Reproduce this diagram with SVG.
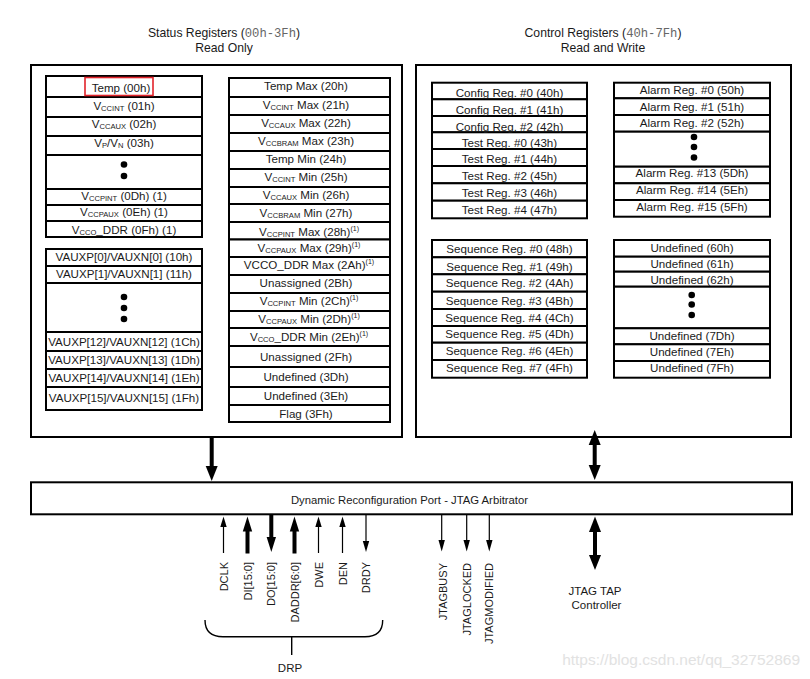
<svg xmlns="http://www.w3.org/2000/svg" width="810" height="679" viewBox="0 0 810 679">
<style>
text{font-family:"Liberation Sans",Arial,sans-serif;fill:#1a1a1a}
.r{font-size:11.6px;text-anchor:middle}
.t{font-size:12.2px;text-anchor:middle}
.mono{font-family:"Liberation Mono","Courier New",monospace;fill:#666}
.sub{font-size:7.6px}
.sup{font-size:7px}
.cell{fill:#fff;stroke:#000;stroke-width:2}
.box{fill:none;stroke:#000;stroke-width:2}
.dot{fill:#000}
.sig{font-size:11px;text-anchor:end}
.thin{stroke:#000;stroke-width:1.2;fill:none}
.head{fill:#000}
.brace{fill:none;stroke:#000;stroke-width:1.4}
</style>

<!-- titles -->
<g id="title-status">
<text class="t" x="224" y="37">Status Registers (<tspan class="mono">00h-3Fh</tspan>)</text>
<text class="t" x="224" y="52">Read Only</text>
</g>
<g id="title-control">
<text class="t" x="603" y="37">Control Registers (<tspan class="mono">40h-7Fh</tspan>)</text>
<text class="t" x="603" y="52">Read and Write</text>
</g>

<!-- Status outer box -->
<g id="status-block">
<rect class="box" x="31" y="65" width="371" height="372"/>

<g id="status-a">
<rect class="cell" x="46" y="76" width="156" height="21"/>
<rect class="cell" x="46" y="97" width="156" height="20"/>
<rect class="cell" x="46" y="117" width="156" height="19"/>
<rect class="cell" x="46" y="136" width="156" height="19"/>
<rect class="cell" x="46" y="155" width="156" height="34"/>
<rect class="cell" x="46" y="189" width="156" height="16"/>
<rect class="cell" x="46" y="205" width="156" height="16"/>
<rect class="cell" x="46" y="221" width="156" height="16"/>
<text class="r" x="121" y="92.3">Temp (00h)</text>
<rect x="85" y="77.5" width="68" height="18" fill="none" stroke="#e2242b" stroke-width="1.6"/>
<text class="r" x="124" y="109.7">V<tspan class="sub" dy="1">CCINT</tspan><tspan dy="-1"> (01h)</tspan></text>
<text class="r" x="124" y="128.3">V<tspan class="sub" dy="1">CCAUX</tspan><tspan dy="-1"> (02h)</tspan></text>
<text class="r" x="124" y="147.3">V<tspan class="sub" dy="1">P</tspan><tspan dy="-1">/V</tspan><tspan class="sub" dy="1">N</tspan><tspan dy="-1"> (03h)</tspan></text>
<circle class="dot" cx="124" cy="164.5" r="3.3"/>
<circle class="dot" cx="124" cy="176" r="3.3"/>
<text class="r" x="124" y="200">V<tspan class="sub" dy="1">CCPINT</tspan><tspan dy="-1"> (0Dh) (1)</tspan></text>
<text class="r" x="124" y="215.7">V<tspan class="sub" dy="1">CCPAUX</tspan><tspan dy="-1"> (0Eh) (1)</tspan></text>
<text class="r" x="124" y="234.3">V<tspan class="sub" dy="1">CCO</tspan><tspan dy="-1">_DDR (0Fh) (1)</tspan></text>
</g>

<g id="status-b">
<rect class="cell" x="46" y="249" width="156" height="17"/>
<rect class="cell" x="46" y="266" width="156" height="17"/>
<rect class="cell" x="46" y="283" width="156" height="49"/>
<rect class="cell" x="46" y="332" width="156" height="19"/>
<rect class="cell" x="46" y="351" width="156" height="18"/>
<rect class="cell" x="46" y="369" width="156" height="18"/>
<rect class="cell" x="46" y="387" width="156" height="23"/>
<text class="r" x="124" y="261">VAUXP[0]/VAUXN[0] (10h)</text>
<text class="r" x="124" y="278">VAUXP[1]/VAUXN[1] (11h)</text>
<circle class="dot" cx="124" cy="297" r="3.3"/>
<circle class="dot" cx="124" cy="308" r="3.3"/>
<circle class="dot" cx="124" cy="319" r="3.3"/>
<text class="r" x="124" y="345.5">VAUXP[12]/VAUXN[12] (1Ch)</text>
<text class="r" x="124" y="364">VAUXP[13]/VAUXN[13] (1Dh)</text>
<text class="r" x="124" y="382">VAUXP[14]/VAUXN[14] (1Eh)</text>
<text class="r" x="124" y="402">VAUXP[15]/VAUXN[15] (1Fh)</text>
</g>

<g id="status-c">
<rect class="cell" x="229" y="78" width="161" height="19"/>
<rect class="cell" x="229" y="97" width="161" height="18"/>
<rect class="cell" x="229" y="115" width="161" height="18"/>
<rect class="cell" x="229" y="133" width="161" height="18"/>
<rect class="cell" x="229" y="151" width="161" height="18"/>
<rect class="cell" x="229" y="169" width="161" height="18"/>
<rect class="cell" x="229" y="187" width="161" height="17"/>
<rect class="cell" x="229" y="204" width="161" height="18"/>
<rect class="cell" x="229" y="222" width="161" height="17.5"/>
<rect class="cell" x="229" y="239.5" width="161" height="17.5"/>
<rect class="cell" x="229" y="257" width="161" height="18"/>
<rect class="cell" x="229" y="275" width="161" height="18"/>
<rect class="cell" x="229" y="293" width="161" height="18"/>
<rect class="cell" x="229" y="311" width="161" height="17"/>
<rect class="cell" x="229" y="328" width="161" height="18"/>
<rect class="cell" x="229" y="346" width="161" height="21"/>
<rect class="cell" x="229" y="367" width="161" height="20"/>
<rect class="cell" x="229" y="387" width="161" height="18"/>
<rect class="cell" x="229" y="405" width="161" height="17"/>
<text class="r" x="306" y="89.7">Temp Max (20h)</text>
<text class="r" x="306" y="109">V<tspan class="sub" dy="1">CCINT</tspan><tspan dy="-1"> Max (21h)</tspan></text>
<text class="r" x="306" y="126.7">V<tspan class="sub" dy="1">CCAUX</tspan><tspan dy="-1"> Max (22h)</tspan></text>
<text class="r" x="306" y="145">V<tspan class="sub" dy="1">CCBRAM</tspan><tspan dy="-1"> Max (23h)</tspan></text>
<text class="r" x="306" y="163.3">Temp Min (24h)</text>
<text class="r" x="306" y="181.3">V<tspan class="sub" dy="1">CCINT</tspan><tspan dy="-1"> Min (25h)</tspan></text>
<text class="r" x="306" y="199">V<tspan class="sub" dy="1">CCAUX</tspan><tspan dy="-1"> Min (26h)</tspan></text>
<text class="r" x="306" y="217.3">V<tspan class="sub" dy="1">CCBRAM</tspan><tspan dy="-1"> Min (27h)</tspan></text>
<text class="r" x="309" y="235.7">V<tspan class="sub" dy="1">CCPINT</tspan><tspan dy="-1"> Max (28h)</tspan><tspan class="sup" dy="-5">(1)</tspan></text>
<text class="r" x="309" y="251.7">V<tspan class="sub" dy="1">CCPAUX</tspan><tspan dy="-1"> Max (29h)</tspan><tspan class="sup" dy="-5">(1)</tspan></text>
<text class="r" x="309" y="269">VCCO_DDR Max (2Ah)<tspan class="sup" dy="-5">(1)</tspan></text>
<text class="r" x="306" y="287.3">Unassigned (2Bh)</text>
<text class="r" x="309" y="305">V<tspan class="sub" dy="1">CCPINT</tspan><tspan dy="-1"> Min (2Ch)</tspan><tspan class="sup" dy="-5">(1)</tspan></text>
<text class="r" x="309" y="323">V<tspan class="sub" dy="1">CCPAUX</tspan><tspan dy="-1"> Min (2Dh)</tspan><tspan class="sup" dy="-5">(1)</tspan></text>
<text class="r" x="309" y="340.7">V<tspan class="sub" dy="1">CCO</tspan><tspan dy="-1">_DDR Min (2Eh)</tspan><tspan class="sup" dy="-5">(1)</tspan></text>
<text class="r" x="306" y="360.7">Unassigned (2Fh)</text>
<text class="r" x="306" y="380.7">Undefined (3Dh)</text>
<text class="r" x="306" y="399.7">Undefined (3Eh)</text>
<text class="r" x="306" y="418">Flag (3Fh)</text>
</g>
</g>

<!-- Control block -->
<g id="control-block">
<rect class="box" x="416" y="65" width="375" height="372"/>

<g id="config-regs">
<rect class="cell" x="432" y="82.7" width="155" height="16.6"/>
<rect class="cell" x="432" y="99.3" width="155" height="16.7"/>
<rect class="cell" x="432" y="116" width="155" height="16.3"/>
<rect class="cell" x="432" y="132.3" width="155" height="16.7"/>
<rect class="cell" x="432" y="149" width="155" height="17"/>
<rect class="cell" x="432" y="166" width="155" height="17.3"/>
<rect class="cell" x="432" y="183.3" width="155" height="17.4"/>
<rect class="cell" x="432" y="200.7" width="155" height="17.6"/>
<text class="r" x="509.5" y="97.3">Config Reg. #0 (40h)</text>
<text class="r" x="509.5" y="114">Config Reg. #1 (41h)</text>
<text class="r" x="509.5" y="130.7">Config Reg. #2 (42h)</text>
<text class="r" x="509.5" y="146.7">Test Reg. #0 (43h)</text>
<text class="r" x="509.5" y="163.3">Test Reg. #1 (44h)</text>
<text class="r" x="509.5" y="180">Test Reg. #2 (45h)</text>
<text class="r" x="509.5" y="197.3">Test Reg. #3 (46h)</text>
<text class="r" x="509.5" y="214">Test Reg. #4 (47h)</text>
</g>

<g id="alarm-regs">
<rect class="cell" x="614" y="82.7" width="156" height="15.6"/>
<rect class="cell" x="614" y="98.3" width="156" height="16.7"/>
<rect class="cell" x="614" y="115" width="156" height="16.7"/>
<rect class="cell" x="614" y="131.7" width="156" height="35"/>
<rect class="cell" x="614" y="166.7" width="156" height="16.6"/>
<rect class="cell" x="614" y="183.3" width="156" height="16.7"/>
<rect class="cell" x="614" y="200" width="156" height="16.7"/>
<text class="r" x="692" y="94">Alarm Reg. #0 (50h)</text>
<text class="r" x="692" y="110.5">Alarm Reg. #1 (51h)</text>
<text class="r" x="692" y="127">Alarm Reg. #2 (52h)</text>
<circle class="dot" cx="694" cy="137" r="3.3"/>
<circle class="dot" cx="694" cy="147" r="3.3"/>
<circle class="dot" cx="694" cy="157.5" r="3.3"/>
<text class="r" x="692" y="177">Alarm Reg. #13 (5Dh)</text>
<text class="r" x="692" y="193.5">Alarm Reg. #14 (5Eh)</text>
<text class="r" x="692" y="210.5">Alarm Reg. #15 (5Fh)</text>
</g>

<g id="sequence-regs">
<rect class="cell" x="432" y="240" width="155" height="17.3"/>
<rect class="cell" x="432" y="257.3" width="155" height="17"/>
<rect class="cell" x="432" y="274.3" width="155" height="17.4"/>
<rect class="cell" x="432" y="291.7" width="155" height="17.3"/>
<rect class="cell" x="432" y="309" width="155" height="17"/>
<rect class="cell" x="432" y="326" width="155" height="16.7"/>
<rect class="cell" x="432" y="342.7" width="155" height="17.3"/>
<rect class="cell" x="432" y="360" width="155" height="17.7"/>
<text class="r" x="509.5" y="253.3">Sequence Reg. #0 (48h)</text>
<text class="r" x="509.5" y="270.7">Sequence Reg. #1 (49h)</text>
<text class="r" x="509.5" y="287.3">Sequence Reg. #2 (4Ah)</text>
<text class="r" x="509.5" y="304.7">Sequence Reg. #3 (4Bh)</text>
<text class="r" x="509.5" y="321.7">Sequence Reg. #4 (4Ch)</text>
<text class="r" x="509.5" y="338.3">Sequence Reg. #5 (4Dh)</text>
<text class="r" x="509.5" y="355">Sequence Reg. #6 (4Eh)</text>
<text class="r" x="509.5" y="372.3">Sequence Reg. #7 (4Fh)</text>
</g>

<g id="undefined-regs">
<rect class="cell" x="614" y="240" width="156" height="16.7"/>
<rect class="cell" x="614" y="256.7" width="156" height="15"/>
<rect class="cell" x="614" y="271.7" width="156" height="15"/>
<rect class="cell" x="614" y="286.7" width="156" height="41.6"/>
<rect class="cell" x="614" y="328.3" width="156" height="16"/>
<rect class="cell" x="614" y="344.3" width="156" height="16.7"/>
<rect class="cell" x="614" y="361" width="156" height="16.7"/>
<text class="r" x="692" y="252.3">Undefined (60h)</text>
<text class="r" x="692" y="268">Undefined (61h)</text>
<text class="r" x="692" y="284">Undefined (62h)</text>
<circle class="dot" cx="691.7" cy="295" r="3.3"/>
<circle class="dot" cx="691.7" cy="304.5" r="3.3"/>
<circle class="dot" cx="691.7" cy="315" r="3.3"/>
<text class="r" x="692" y="340">Undefined (7Dh)</text>
<text class="r" x="692" y="355.7">Undefined (7Eh)</text>
<text class="r" x="692" y="372.3">Undefined (7Fh)</text>
</g>
</g>

<!-- DRP / JTAG arbitrator bar -->
<g id="arbitrator">
<rect class="box" x="31" y="482.3" width="761" height="32"/>
<text x="409.5" y="504.3" style="font-size:11.3px;text-anchor:middle">Dynamic Reconfiguration Port - JTAG Arbitrator</text>
</g>

<!-- connectors -->
<g id="connectors">
<!-- status -> bar -->
<rect x="209.7" y="437" width="4" height="29" class="head"/>
<polygon class="head" points="205.7,466 217.7,466 211.7,481"/>
<!-- control <-> bar -->
<polygon class="head" points="588.7,445 600.7,445 594.7,430"/>
<rect x="592.7" y="444" width="4" height="22" class="head"/>
<polygon class="head" points="588.7,465 600.7,465 594.7,480"/>

<!-- DCLK -->
<line class="thin" x1="223.5" y1="526" x2="223.5" y2="553"/>
<polygon class="head" points="220.3,527 226.7,527 223.5,516.5"/>
<!-- DI -->
<rect x="245.5" y="530" width="4" height="23.5" class="head"/>
<polygon class="head" points="242.8,531.5 252.2,531.5 247.5,516.5"/>
<!-- DO -->
<rect x="269.3" y="515" width="4" height="23" class="head"/>
<polygon class="head" points="266.6,537 276,537 271.3,552"/>
<!-- DADDR -->
<rect x="292.5" y="530" width="4" height="23.5" class="head"/>
<polygon class="head" points="289.8,531.5 299.2,531.5 294.5,516.5"/>
<!-- DWE -->
<line class="thin" x1="318.5" y1="526" x2="318.5" y2="553"/>
<polygon class="head" points="315.3,527 321.7,527 318.5,516.5"/>
<!-- DEN -->
<line class="thin" x1="342.5" y1="526" x2="342.5" y2="553"/>
<polygon class="head" points="339.3,527 345.7,527 342.5,516.5"/>
<!-- DRDY -->
<line class="thin" x1="366" y1="515" x2="366" y2="542"/>
<polygon class="head" points="362.8,541 369.2,541 366,552"/>
<!-- JTAG signals -->
<line class="thin" x1="441.7" y1="515" x2="441.7" y2="541"/>
<polygon class="head" points="438.5,540 444.9,540 441.7,551.5"/>
<line class="thin" x1="466.7" y1="515" x2="466.7" y2="541"/>
<polygon class="head" points="463.5,540 469.9,540 466.7,551.5"/>
<line class="thin" x1="489.3" y1="515" x2="489.3" y2="541"/>
<polygon class="head" points="486.1,540 492.5,540 489.3,551.5"/>
<!-- JTAG TAP -->
<polygon class="head" points="589,532 601,532 595,516.5"/>
<rect x="593" y="531" width="4" height="25" class="head"/>
<polygon class="head" points="589,555 601,555 595,570"/>

<!-- DRP brace -->
<path class="brace" d="M205,620 Q205,636.7 223,636.7 L365,636.7 Q382.7,636.7 382.7,620"/>
<line class="brace" x1="291.7" y1="636.7" x2="291.7" y2="655"/>
</g>

<!-- signal labels -->
<g id="drp-labels">
<text class="sig" transform="translate(223.5,562) rotate(-90)" x="0" y="4">DCLK</text>
<text class="sig" transform="translate(247.5,562) rotate(-90)" x="0" y="4">DI[15:0]</text>
<text class="sig" transform="translate(271.3,562) rotate(-90)" x="0" y="4">DO[15:0]</text>
<text class="sig" transform="translate(294.7,562) rotate(-90)" x="0" y="4">DADDR[6:0]</text>
<text class="sig" transform="translate(319,562) rotate(-90)" x="0" y="4">DWE</text>
<text class="sig" transform="translate(342.5,562) rotate(-90)" x="0" y="4">DEN</text>
<text class="sig" transform="translate(366.3,562) rotate(-90)" x="0" y="4">DRDY</text>
<text x="290" y="672" style="font-size:11.5px;text-anchor:middle">DRP</text>
</g>
<g id="jtag-labels">
<text class="sig" transform="translate(443.3,563) rotate(-90)" x="0" y="4">JTAGBUSY</text>
<text class="sig" transform="translate(466.7,563) rotate(-90)" x="0" y="4">JTAGLOCKED</text>
<text class="sig" transform="translate(489,563) rotate(-90)" x="0" y="4">JTAGMODIFIED</text>
</g>
<g id="jtag-tap">
<text x="595" y="595" style="font-size:11.5px;text-anchor:middle">JTAG TAP</text>
<text x="596.5" y="609" style="font-size:11.5px;text-anchor:middle">Controller</text>
</g>

<text x="800" y="665" style="font-size:15.5px;text-anchor:end;fill:#e2e2e2">https://blog.csdn.net/qq_32752869</text>
</svg>
